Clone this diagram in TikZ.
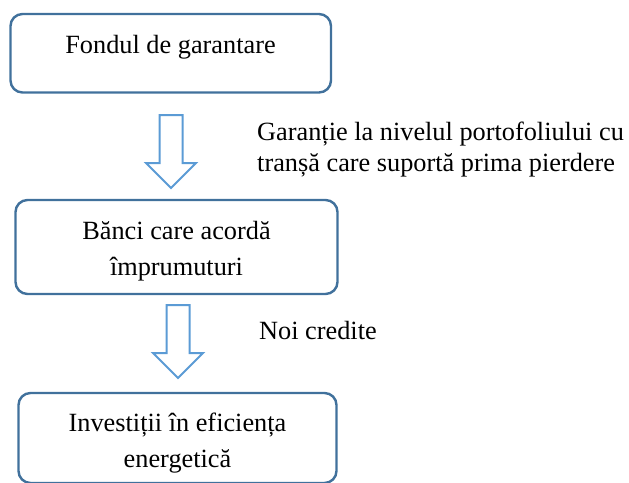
\documentclass[tikz,border=0pt]{standalone}
\usepackage{fontspec}
\setmainfont{Liberation Serif}
\begin{document}
\begin{tikzpicture}[x=1pt,y=-1pt,
  stagebox/.style={draw=boxblue, line width=2.4pt, rounded corners=12pt, fill=white},
  blockarrow/.style={draw=arrowblue, line width=2pt, fill=white, line join=miter},
  boxtext/.style={font=\fontsize{26.3}{36}\selectfont, align=center, inner sep=0pt},
  sidetext/.style={font=\fontsize{26.3}{31.5}\selectfont, align=left, inner sep=0pt}]
\definecolor{boxblue}{HTML}{41719C}
\definecolor{arrowblue}{HTML}{5B9BD5}
\useasboundingbox (0,0) rectangle (629,482);
\clip (0,0) rectangle (629,482);

% the three stages
\draw[stagebox] (10.5,14) rectangle (331,92.5);
\draw[stagebox] (15.5,200) rectangle (337.5,294);
\draw[stagebox] (18.5,393) rectangle (336.5,483);

% texts: the base anchor of a two-line node sits on its last line
\node[boxtext, anchor=base] (fond) at (170.5,53) {Fondul de garantare};
\node[boxtext, anchor=base] (banci) at (176.5,275) {Bănci care acordă\\împrumuturi};
\node[boxtext, anchor=base] (invest) at (177.5,467.5) {Investiții în eficiența\\energetică};

% hollow block arrows between the stages
\draw[blockarrow] (159.5,115) -- (182.5,115) -- (182.5,163) -- (196,163)
  -- (171,188) -- (146,163) -- (159.5,163) -- cycle;
\draw[blockarrow] (166.5,305) -- (189.5,305) -- (189.5,353) -- (203,353)
  -- (178,378) -- (153,353) -- (166.5,353) -- cycle;

% labels beside the arrows
\node[sidetext, anchor=base west] (garantie) at (257,171.5)
  {Garanție la nivelul portofoliului cu\\tranșă care suportă prima pierdere};
\node[sidetext, anchor=base west] (credite) at (259,339) {Noi credite};
\end{tikzpicture}
\end{document}
